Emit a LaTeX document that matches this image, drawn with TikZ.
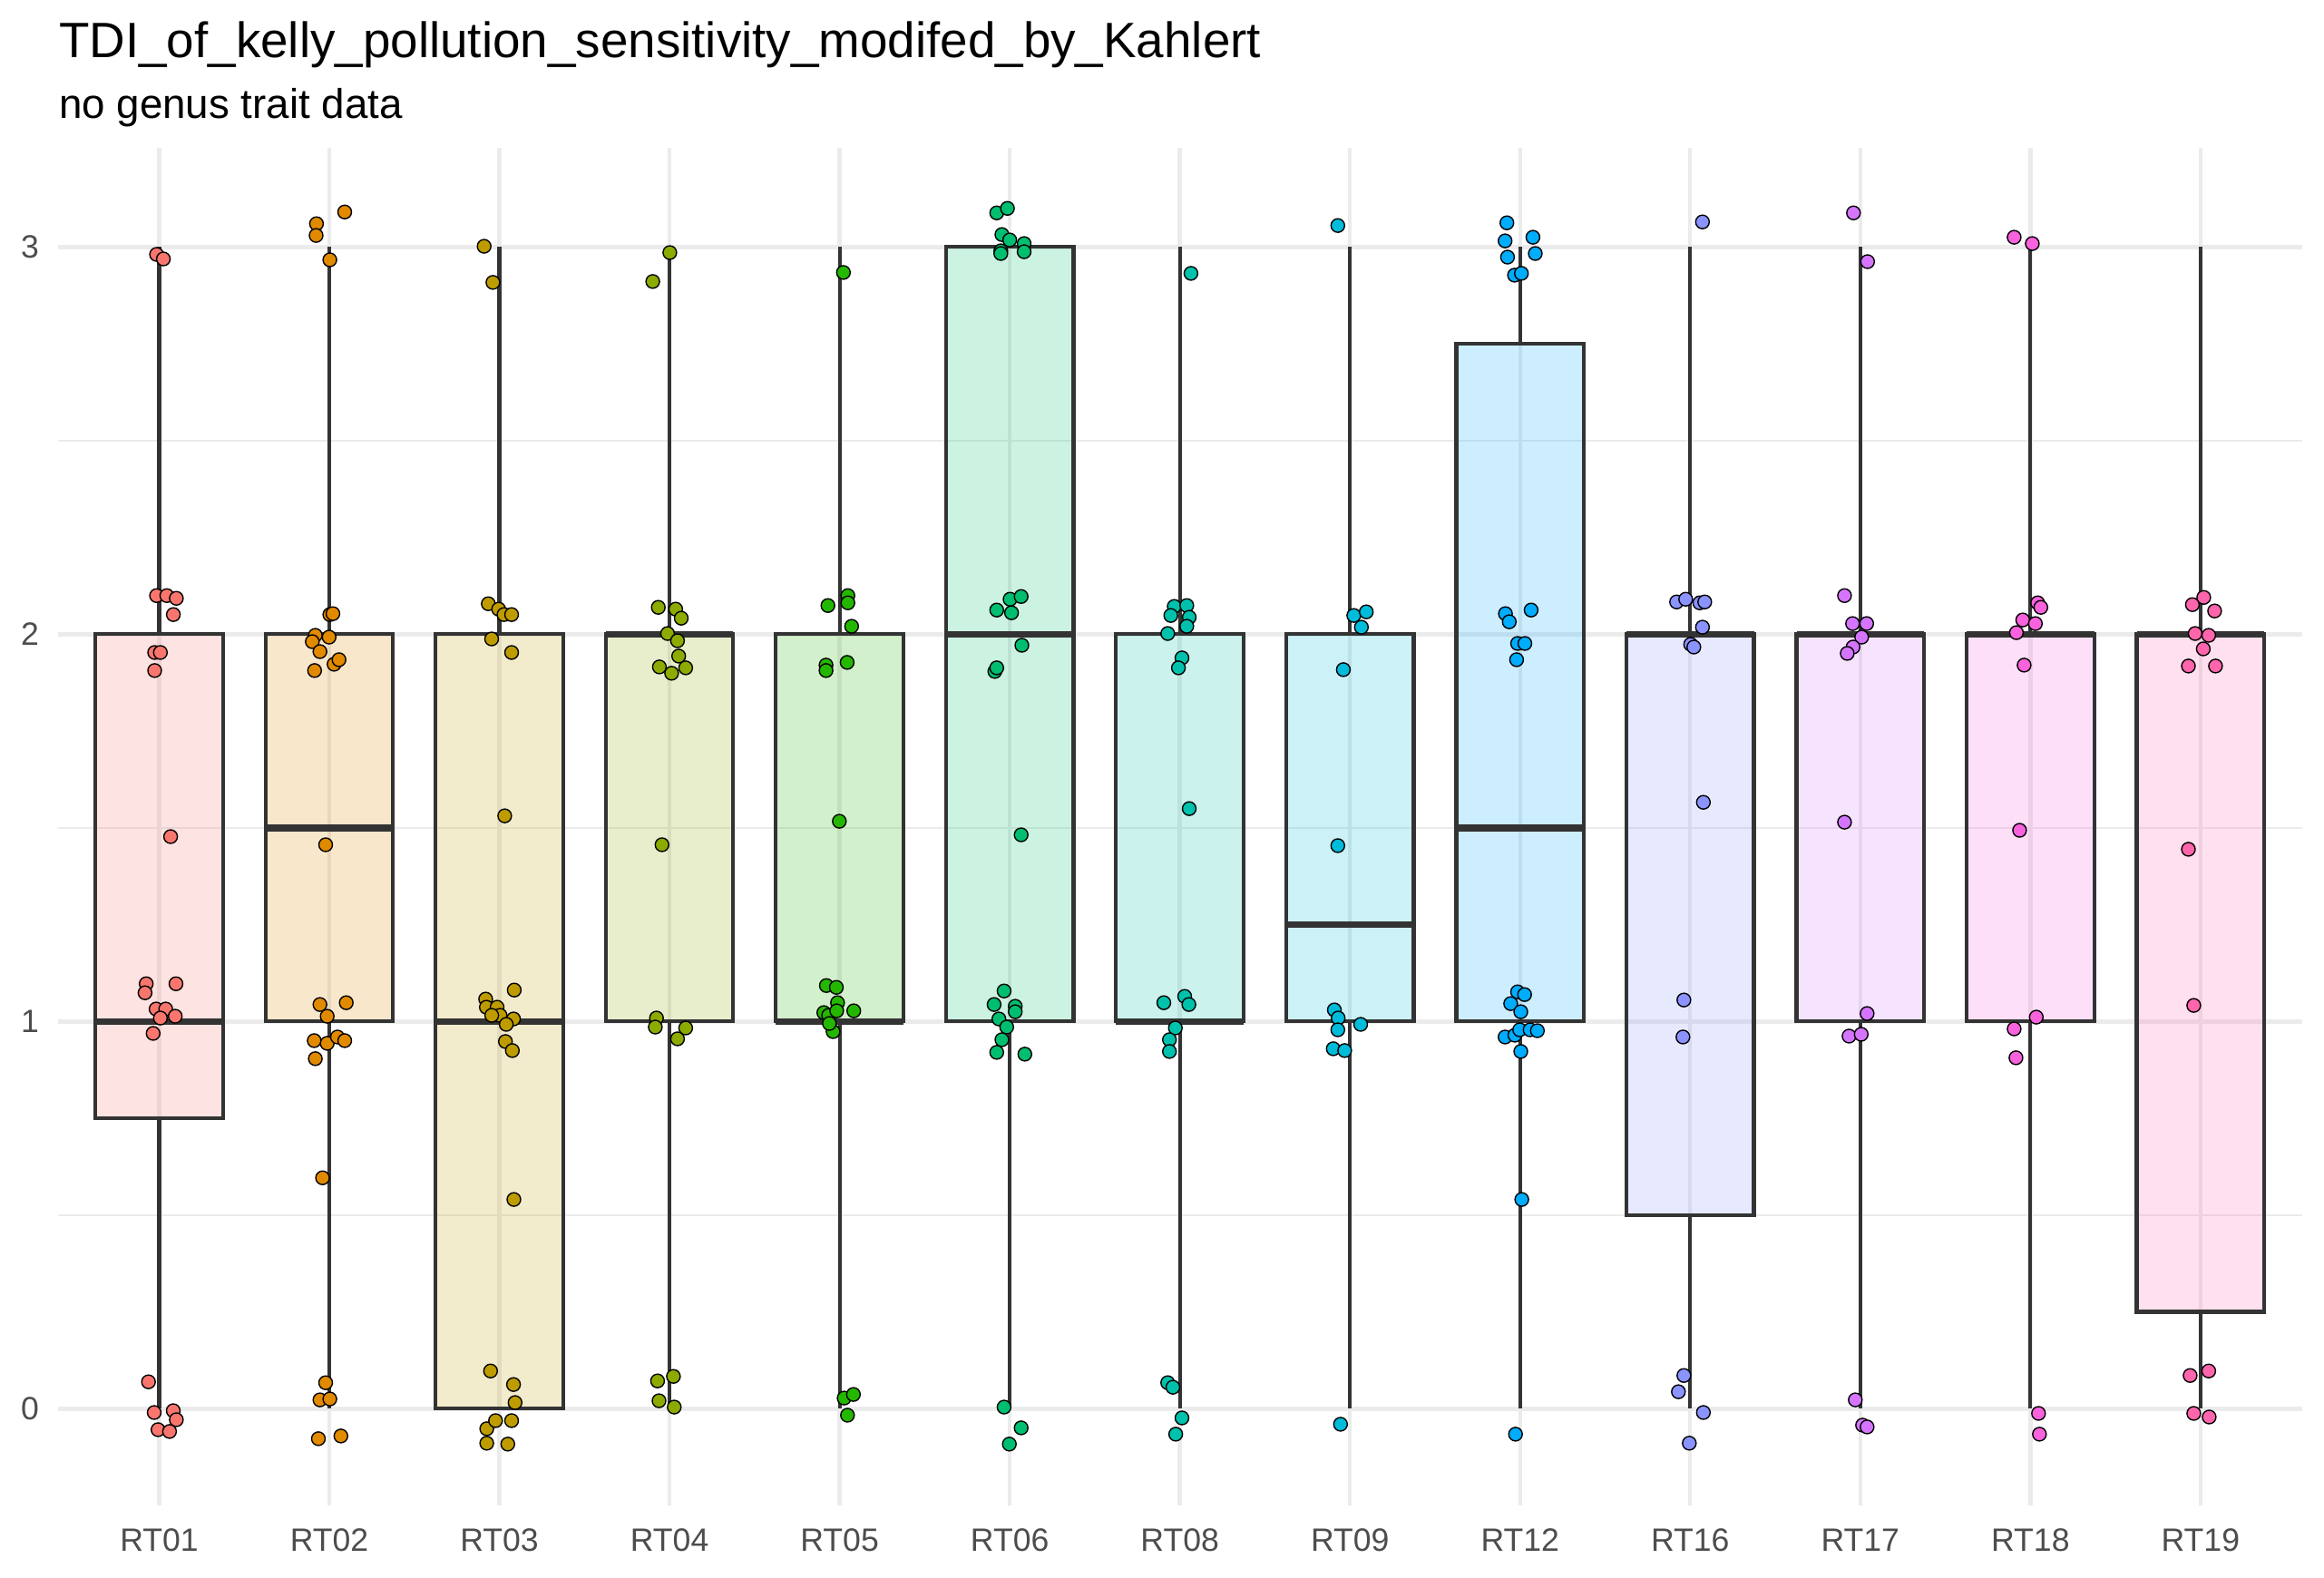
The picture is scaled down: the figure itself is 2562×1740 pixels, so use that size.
\documentclass[tikz,border=0pt]{standalone}
\usepackage{fontspec}
\setmainfont{Liberation Sans}
\definecolor{c1}{HTML}{F8766D}
\definecolor{c2}{HTML}{E18A00}
\definecolor{c3}{HTML}{BE9C00}
\definecolor{c4}{HTML}{8CAB00}
\definecolor{c5}{HTML}{24B700}
\definecolor{c6}{HTML}{00BE70}
\definecolor{c7}{HTML}{00C1AB}
\definecolor{c8}{HTML}{00BBDA}
\definecolor{c9}{HTML}{00ACFC}
\definecolor{c10}{HTML}{8B93FF}
\definecolor{c11}{HTML}{D575FE}
\definecolor{c12}{HTML}{F962DD}
\definecolor{c13}{HTML}{FF65AC}
\definecolor{gridc}{HTML}{EBEBEB}
\definecolor{boxc}{HTML}{333333}
\definecolor{axtext}{HTML}{4D4D4D}
\tikzset{
  gridmajor/.style={draw=gridc, line width=4.4},
  gridminor/.style={draw=gridc, line width=2.2},
  whisk/.style={draw=boxc, line width=4.2},
  boxst/.style={draw=boxc, line width=4.2, fill opacity=0.2},
  medst/.style={draw=boxc, line width=7.5},
  pt/.style={draw=black, line width=1.4},
  xlab/.style={anchor=base, inner sep=0, text=axtext, font=\fontsize{35.6}{40}\selectfont},
  ylab/.style={anchor=east, inner sep=0, text=axtext, font=\fontsize{35.6}{40}\selectfont},
}
\newcommand{\ptgroup}[2]{\foreach \px/\py in {#2} {\draw[pt, fill=#1] (\px,0.9953*\py+0.85) circle[radius=7.5];}}
\begin{document}
\begin{tikzpicture}[x=1pt,y=-1pt]
\useasboundingbox (0,0) rectangle (2562,1740);
\fill[white] (0,0) rectangle (2562,1740);
% title
\node[anchor=base west, inner sep=0, font=\fontsize{54.8}{60}\selectfont] (title) at (65,63) {TDI\_of\_kelly\_pollution\_sensitivity\_modifed\_by\_Kahlert};
\node[anchor=base west, inner sep=0, font=\fontsize{45.7}{50}\selectfont] (subtitle) at (65,130) {no genus trait data};
% grid
\foreach \v in {0.5,1.5,2.5} {\draw[gridminor] (64,1553.3-427*\v) -- (2538,1553.3-427*\v);}
\foreach \v in {0,1,2,3} {\draw[gridmajor] (64,1553.3-427*\v) -- (2538,1553.3-427*\v);
  \node[ylab] (yl\v) at (43,1553.3-427*\v) {\v};}
\foreach \i in {1,...,13} {\draw[gridmajor] (-12.03+187.53*\i,163) -- (-12.03+187.53*\i,1660);}
% boxes
\foreach \i/\lo/\md/\hi/\c/\lab in {1/0.75/1/2/c1/01, 2/1/1.5/2/c2/02, 3/0/1/2/c3/03, 4/1/2/2/c4/04, 5/1/1/2/c5/05, 6/1/2/3/c6/06, 7/1/1/2/c7/08, 8/1/1.25/2/c8/09, 9/1/1.5/2.75/c9/12, 10/0.5/2/2/c10/16, 11/1/2/2/c11/17, 12/1/2/2/c12/18, 13/0.25/2/2/c13/19} {
  \pgfmathsetmacro\xc{-12.03+187.53*\i}
  \pgfmathsetmacro\ylo{1553.3-427*\lo}
  \pgfmathsetmacro\ymd{1553.3-427*\md}
  \pgfmathsetmacro\yhi{1553.3-427*\hi}
  \draw[whisk] (\xc,1553.3) -- (\xc,\ylo);
  \draw[whisk] (\xc,\yhi) -- (\xc,272.3);
  \filldraw[boxst, fill=\c] (\xc-70.3,\ylo) rectangle (\xc+70.3,\yhi);
  \draw[medst] (\xc-70.3,\ymd) -- (\xc+70.3,\ymd);
  \node[xlab] (xl\i) at (\xc,1710) {RT\lab};
}
% points
\ptgroup{c1}{172.6/281,180.1/286,172.6/659,183.9/659,194.4/662,191.1/680,170.5/722,176.8/722,170.5/742,188.1/926,161.2/1089,159.9/1099,194/1089,172.1/1117,182.7/1117,193.2/1125,176.8/1127,168.8/1144,163.7/1530,170/1564,191/1562,194.4/1572,174.2/1583,186.9/1585}
\ptgroup{c2}{348.9/247,348.5/260,380/234,363.6/287,363.6/680,367/679,347.6/703,344.3/710,362.8/705,352.7/721,346.8/742,368.3/735,373.7/730,359/935,352.7/1112,381.7/1110,360.7/1125,346.4/1152,360.7/1155,372/1148,380/1152,347.6/1172,355.6/1304,359/1531,352.7/1550,363.6/1549,351/1593,375.8/1590}
\ptgroup{c3}{533.7/272,543.4/312,538.3/668,549.7/674,555.6/680,564/680,542/707,564/722,556.4/903,535.4/1106,536.2/1115,548/1115,566.9/1096,551.3/1124,566.1/1128,558.1/1134,542.1/1124,557.2/1153,564.8/1163,566.5/1328,540.8/1518,566.1/1533,567.8/1553,536.6/1582,546.3/1573,564/1573,536.6/1598,559.8/1599}
\ptgroup{c4}{738.4/279,719.6/311,725.7/672,744.9/674,751/684,735.9/701,746.9/709,748.2/726,726.9/738,740.4/745,755.9/739,729.8/935,723.7/1127,722.4/1137,755.9/1138,746.9/1150,724.9/1529,742.4/1524,726.5/1551,743.3/1558}
\ptgroup{c5}{929.8/301,912.7/670,934.7/659,934.7/667,938.8/693,910.6/736,910.6/742,933.9/733,925.3/909,911/1091,922/1093,923.3/1110,941.2/1119,908.2/1121,913.5/1124,922.4/1119,918.4/1142,914.3/1133,930.6/1548,940.8/1544,934.3/1567}
\ptgroup{c6}{1098.8/235,1110.6/230,1104.5/259,1113.1/265,1103.3/277,1103.3/280,1129/269,1129/278,1113.5/663,1125.7/660,1098.8/675,1115.1/678,1126.5/714,1096.7/743,1098.8/739,1125.7/924,1106.9/1097,1095.9/1112,1119.2/1114,1119.2/1120,1101.2/1128,1109.8/1137,1104.5/1151,1098.8/1165,1129.8/1167,1106.9/1558,1125.7/1581,1112.7/1599}
\ptgroup{c7}{1312.9/302,1294.5/671,1308.3/670,1290.7/681,1311/683,1308.3/693,1287.3/701,1303/728,1299.1/739,1311/895,1283/1110,1306/1103,1310.6/1112,1295.7/1138,1289.2/1151,1289.2/1164,1287.3/1531,1293/1536,1303/1570,1296.1/1588}
\ptgroup{c8}{1474.8/249,1492.4/681,1506.2/677,1500.8/694,1480.9/741,1474.8/936,1471/1118,1475.2/1127,1474.8/1140,1500/1134,1469.8/1161,1482.4/1163,1477.8/1577}
\ptgroup{c9}{1661.2/246,1659.2/266,1661.9/284,1689.9/262,1692.5/280,1669.6/304,1677.2/302,1659.6/679,1663.8/688,1687.9/675,1673/712,1681/712,1671.9/730,1673/1098,1680.7/1101,1665.4/1111,1676.5/1120,1659.2/1148,1670/1146,1675.3/1140,1686.8/1140,1694.8/1141,1676.5/1164,1677.6/1328,1670.7/1588}
\ptgroup{c10}{1876.8/245,1848.3/666,1858.3/663,1873.8/667,1879.3/666,1876.8/694,1863.8/713,1867.3/716,1877.8/888,1856.3/1107,1855.3/1148,1856.3/1523,1850.3/1541,1877.8/1564,1862.3/1598}
\ptgroup{c11}{2043.3/235,2058.8/289,2033.4/659,2042.3/690,2057.8/690,2052.3/705,2042.8/716,2036.4/723,2033.4/910,2058.3/1122,2038.4/1147,2051.8/1145,2045.3/1550,2053.3/1578,2058.3/1580}
\ptgroup{c12}{2220.4/262,2240.4/269,2246.3/667,2249.8/672,2229.9/686,2243.8/690,2222.9/700,2231.4/736,2226.4/919,2244.8/1126,2220.4/1139,2222.4/1171,2247.3/1565,2248.3/1588}
\ptgroup{c13}{2416.9/669,2429.4/661,2441.4/676,2419.9/701,2434.9/703,2428.9/718,2412.5/737,2442.4/737,2412.5/940,2418.4/1113,2414.4/1523,2434.9/1518,2418.4/1565,2435.4/1569}
\end{tikzpicture}
\end{document}
